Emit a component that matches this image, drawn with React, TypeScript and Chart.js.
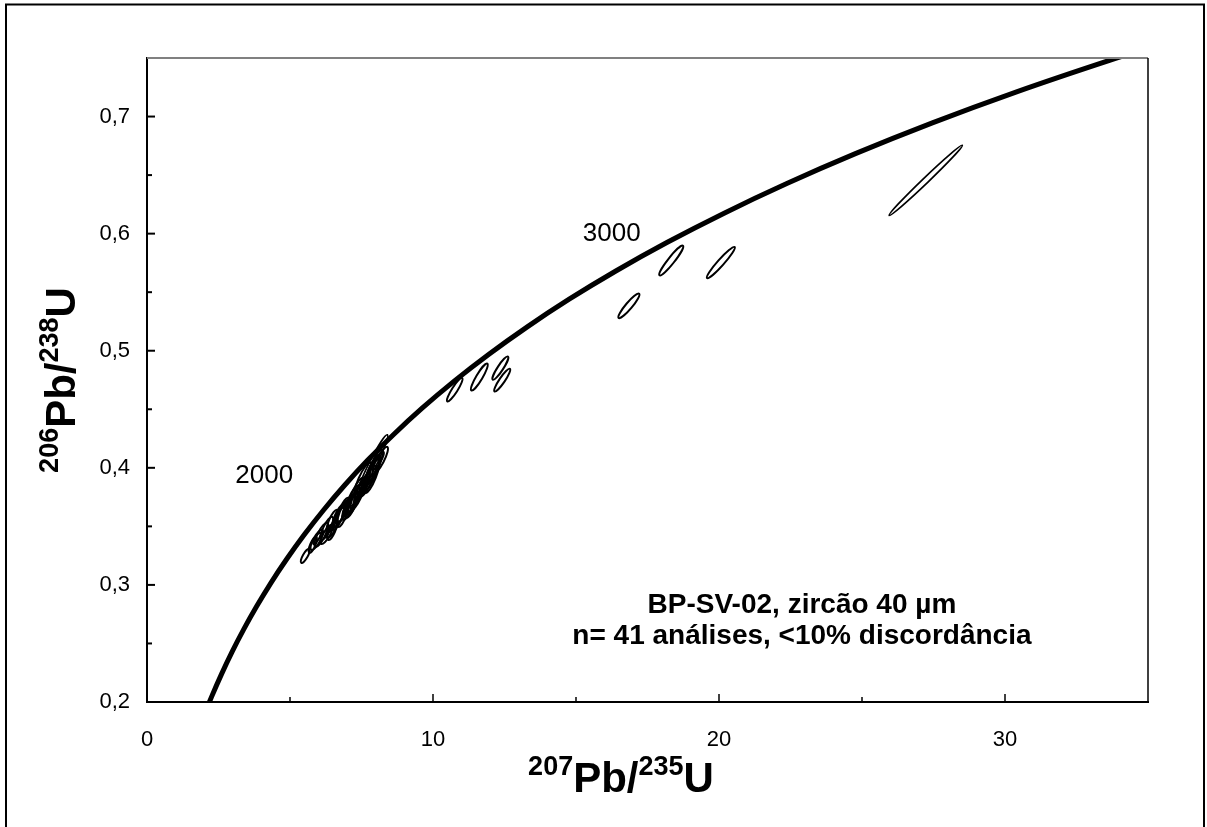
import React, { useEffect, useRef } from 'react';
import { Chart, registerables } from 'chart.js';

Chart.register(...registerables);

const FONT = 'Arial, "Liberation Sans", Helvetica, sans-serif';

// Concordia curve points (age in Ma, 207Pb/235U, 206Pb/238U)
const concordiaAge = [1150, 1200, 1300, 1400, 1500, 1600, 1700, 1800, 1900, 2000, 2100, 2200, 2300, 2400, 2500, 2600, 2700, 2800, 2900, 3000, 3100, 3200, 3300, 3400, 3500, 3600, 3650];
const concordiaPb207U235 = [2.1037, 2.2603, 2.5978, 2.9701, 3.381, 3.8344, 4.3348, 4.8868, 5.4962, 6.1687, 6.9105, 7.7292, 8.6327, 9.6295, 10.7297, 11.9437, 13.2836, 14.7613, 16.393, 18.1932, 20.1795, 22.3715, 24.7905, 27.4597, 30.4053, 33.6558, 35.405];
const concordiaPb206U238 = [0.1953, 0.2046, 0.2234, 0.2426, 0.262, 0.2817, 0.3018, 0.3221, 0.3428, 0.3638, 0.3851, 0.4068, 0.4287, 0.4511, 0.4738, 0.4968, 0.5202, 0.544, 0.5681, 0.5926, 0.6175, 0.6428, 0.6685, 0.6946, 0.7211, 0.748, 0.7616];

// Error ellipses: lower tip (x1,y1), upper tip (x2,y2), minor/major ratio
const ellipseX1 = [5.394, 5.674, 5.744, 5.884, 6.089, 6.095, 6.3, 6.305, 6.51, 6.515, 6.685, 6.69, 6.86, 6.515, 6.965, 6.97, 7.14, 7.11, 7.005, 7.315, 7.285, 7.491, 7.461, 7.631, 7.636, 7.356, 7.741, 7.911, 7.881, 7.671, 5.814, 6.335, 7.035, 10.5, 11.34, 12.09, 12.15, 16.49, 17.92, 19.58, 25.95];
const ellipseY1 = [0.3188, 0.3274, 0.3299, 0.3325, 0.335, 0.3385, 0.3402, 0.3444, 0.347, 0.3487, 0.3496, 0.3538, 0.3556, 0.3496, 0.3573, 0.3615, 0.3641, 0.3675, 0.3615, 0.3726, 0.3752, 0.3778, 0.3752, 0.3786, 0.3846, 0.3769, 0.3915, 0.3949, 0.3983, 0.3872, 0.335, 0.3385, 0.36, 0.4567, 0.4661, 0.4752, 0.4652, 0.528, 0.5644, 0.5621, 0.6156];
const ellipseX2 = [5.674, 5.919, 6.13, 6.305, 6.475, 6.48, 6.65, 6.655, 6.86, 6.865, 7.035, 7.04, 7.21, 7.11, 7.315, 7.391, 7.561, 7.566, 7.706, 7.771, 7.811, 7.981, 8.161, 8.086, 8.091, 8.406, 8.231, 8.401, 8.266, 8.126, 6.06, 6.615, 7.35, 11.02, 11.9, 12.62, 12.69, 17.21, 18.74, 20.55, 28.51];
const ellipseY2 = [0.3308, 0.341, 0.347, 0.353, 0.3513, 0.3581, 0.3556, 0.3641, 0.3684, 0.3658, 0.3726, 0.3744, 0.3761, 0.3726, 0.3786, 0.3846, 0.3863, 0.3915, 0.3923, 0.3949, 0.4043, 0.4017, 0.4094, 0.4068, 0.4085, 0.4282, 0.4154, 0.4179, 0.4137, 0.4111, 0.3444, 0.3538, 0.379, 0.4767, 0.4889, 0.4951, 0.4846, 0.5487, 0.5897, 0.5886, 0.6755];
const ellipseRatio = [0.3, 0.3, 0.3, 0.28, 0.3, 0.28, 0.3, 0.28, 0.28, 0.3, 0.26, 0.28, 0.28, 0.2, 0.28, 0.26, 0.26, 0.26, 0.18, 0.26, 0.24, 0.26, 0.18, 0.24, 0.26, 0.11, 0.24, 0.24, 0.26, 0.24, 0.3, 0.3, 0.28, 0.2, 0.2, 0.2, 0.2, 0.2, 0.17, 0.15, 0.055];

// Axis ticks
const xTickValues = [0, 10, 20, 30];
const xTickLabels = ['0', '10', '20', '30'];
const yTickValues = [0.2, 0.3, 0.4, 0.5, 0.6, 0.7];
const yTickLabels = ['0,2', '0,3', '0,4', '0,5', '0,6', '0,7'];

// Age labels on the concordia
const ageLabels = ['2000', '3000'];
const ageLabelX = [4.1, 16.25];
const ageLabelY = [0.393, 0.6];

// Note text
const noteLines = ['BP-SV-02, zircão 40 µm', 'n= 41 análises, <10% discordância'];
const noteX = 22.9;
const noteY = [0.2829, 0.2564];

// Axis titles (text, superscript?)
const xTitleText = ['207', 'Pb/', '235', 'U'];
const yTitleText = ['206', 'Pb/', '238', 'U'];
const titleSup = [true, false, true, false];

function drawRich(ctx: CanvasRenderingContext2D, texts: string[], sups: boolean[], cx: number, cy: number, big: number, small: number, rotate: boolean) {
  ctx.save();
  ctx.translate(cx, cy);
  if (rotate) ctx.rotate(-Math.PI / 2);
  let total = 0;
  const widths = texts.map((t, i) => {
    ctx.font = `bold ${sups[i] ? small : big}px ${FONT}`;
    const w = ctx.measureText(t).width;
    total += w;
    return w;
  });
  let x = -total / 2;
  ctx.textAlign = 'left';
  ctx.textBaseline = 'alphabetic';
  ctx.fillStyle = '#000';
  const base = big * 0.36;
  texts.forEach((t, i) => {
    ctx.font = `bold ${sups[i] ? small : big}px ${FONT}`;
    ctx.fillText(t, x, sups[i] ? base - big * 0.4 : base);
    x += widths[i];
  });
  ctx.restore();
}

const decorPlugin = {
  id: 'decor',
  beforeDraw(chart: any) {
    const ctx = chart.ctx as CanvasRenderingContext2D;
    ctx.save();
    ctx.fillStyle = '#fff';
    ctx.fillRect(0, 0, chart.width, chart.height);
    ctx.strokeStyle = '#000';
    ctx.lineWidth = 2;
    ctx.strokeRect(6, 4.5, 1198, 900);
    ctx.restore();
  },
  afterDatasetsDraw(chart: any) {
    const ctx = chart.ctx as CanvasRenderingContext2D;
    const a = chart.chartArea;
    const xs = chart.scales.x;
    const ys = chart.scales.y;
    ctx.save();
    ctx.beginPath();
    ctx.rect(a.left, a.top, a.right - a.left, a.bottom - a.top);
    ctx.clip();
    ctx.strokeStyle = '#000';
    for (let i = 0; i < ellipseX1.length; i++) {
      const x1 = xs.getPixelForValue(ellipseX1[i]);
      const y1 = ys.getPixelForValue(ellipseY1[i]);
      const x2 = xs.getPixelForValue(ellipseX2[i]);
      const y2 = ys.getPixelForValue(ellipseY2[i]);
      const dx = x2 - x1;
      const dy = y2 - y1;
      const semi = Math.hypot(dx, dy) / 2;
      ctx.lineWidth = semi < 25 ? 2 : 1.7;
      ctx.beginPath();
      ctx.ellipse((x1 + x2) / 2, (y1 + y2) / 2, semi, Math.max(semi * ellipseRatio[i], 1), Math.atan2(dy, dx), 0, Math.PI * 2);
      ctx.stroke();
    }
    ctx.restore();
  },
  afterDraw(chart: any) {
    const ctx = chart.ctx as CanvasRenderingContext2D;
    const a = chart.chartArea;
    const xs = chart.scales.x;
    const ys = chart.scales.y;
    ctx.save();
    // top and right frame of the plot
    ctx.strokeStyle = '#808080';
    ctx.lineWidth = 2;
    ctx.beginPath();
    ctx.moveTo(a.left, a.top);
    ctx.lineTo(a.right, a.top);
    ctx.stroke();
    ctx.strokeStyle = '#000';
    ctx.lineWidth = 1.5;
    ctx.beginPath();
    ctx.moveTo(a.right, a.top);
    ctx.lineTo(a.right, a.bottom);
    ctx.stroke();
    // inward ticks
    ctx.lineWidth = 1.5;
    xs.ticks.forEach((t: any) => {
      if (t.value <= xs.min || t.value >= xs.max) return;
      const px = xs.getPixelForValue(t.value);
      const len = Math.round(t.value) % 10 === 0 ? 8 : 5;
      ctx.beginPath();
      ctx.moveTo(px, a.bottom);
      ctx.lineTo(px, a.bottom - len);
      ctx.stroke();
    });
    ctx.lineWidth = 2;
    ys.ticks.forEach((t: any) => {
      if (t.value <= ys.min + 1e-9 || t.value >= ys.max - 1e-9) return;
      const py = ys.getPixelForValue(t.value);
      const len = Math.round(t.value * 100) % 10 === 0 ? 8 : 5;
      ctx.beginPath();
      ctx.moveTo(a.left, py);
      ctx.lineTo(a.left + len, py);
      ctx.stroke();
    });
    // age labels
    ctx.fillStyle = '#000';
    ctx.textAlign = 'center';
    ctx.textBaseline = 'middle';
    ctx.font = `26px ${FONT}`;
    ageLabels.forEach((lab, i) => {
      ctx.fillText(lab, xs.getPixelForValue(ageLabelX[i]), ys.getPixelForValue(ageLabelY[i]));
    });
    // note
    ctx.font = `bold 28px ${FONT}`;
    noteLines.forEach((line, i) => {
      ctx.fillText(line, xs.getPixelForValue(noteX), ys.getPixelForValue(noteY[i]));
    });
    ctx.restore();
    // axis titles
    drawRich(ctx, xTitleText, titleSup, 621, 777, 42, 27, false);
    drawRich(ctx, yTitleText, titleSup, 60, 380, 42, 27, true);
  },
};

export default function App() {
  const ref = useRef<HTMLCanvasElement | null>(null);
  useEffect(() => {
    if (!ref.current) return;
    const chart = new Chart(ref.current, {
      type: 'scatter',
      data: {
        datasets: [
          {
            label: 'Concordia',
            data: concordiaAge.map((_, i) => ({ x: concordiaPb207U235[i], y: concordiaPb206U238[i] })),
            showLine: true,
            borderColor: '#000',
            backgroundColor: '#000',
            borderWidth: 5,
            pointRadius: 0,
            cubicInterpolationMode: 'monotone',
            clip: 0,
          } as any,
        ],
      },
      options: {
        animation: false,
        responsive: false,
        events: [],
        layout: { padding: { left: 0, top: 58, right: 59, bottom: 0 } },
        plugins: { legend: { display: false }, tooltip: { enabled: false }, title: { display: false } },
        scales: {
          x: {
            type: 'linear',
            min: 0,
            max: 35,
            afterFit: (s: any) => { s.height = 125; },
            ticks: {
              stepSize: 5,
              autoSkip: false,
              maxRotation: 0,
              padding: 25,
              color: '#000',
              font: { family: FONT, size: 22 },
              callback: (v: any) => {
                const i = xTickValues.findIndex((t) => Math.abs(t - Number(v)) < 1e-6);
                return i >= 0 ? xTickLabels[i] : '';
              },
            },
            grid: { drawOnChartArea: false, drawTicks: false },
            border: { color: '#000', width: 2 },
          },
          y: {
            type: 'linear',
            min: 0.2,
            max: 0.75,
            afterFit: (s: any) => { s.width = 147; },
            ticks: {
              stepSize: 0.05,
              autoSkip: false,
              padding: 17,
              color: '#000',
              font: { family: FONT, size: 22 },
              callback: (v: any) => {
                const i = yTickValues.findIndex((t) => Math.abs(t - Number(v)) < 1e-6);
                return i >= 0 ? yTickLabels[i] : '';
              },
            },
            grid: { drawOnChartArea: false, drawTicks: false },
            border: { color: '#000', width: 2 },
          },
        },
      } as any,
      plugins: [decorPlugin],
    });
    return () => chart.destroy();
  }, []);
  return (
    <div style={{ position: 'absolute', left: 0, top: 0, width: 1207, height: 827, overflow: 'hidden' }}>
      <canvas ref={ref} width={1207} height={827} style={{ display: 'block' }} />
    </div>
  );
}
